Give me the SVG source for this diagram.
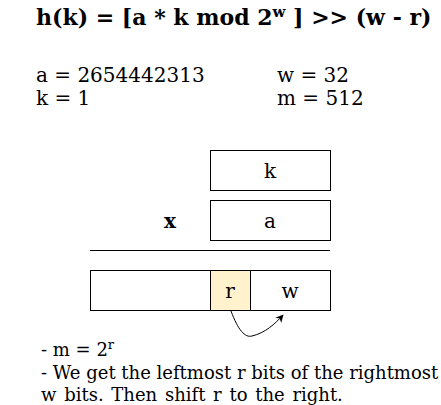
<svg xmlns="http://www.w3.org/2000/svg" width="441" height="405" viewBox="0 0 441 405">
<style>
text{font-family:"DejaVu Serif",serif;font-size:20px;fill:#000}
.b{font-weight:bold}
.c{text-anchor:middle}
.n{font-size:18px}
.box{stroke:#000;stroke-width:1;fill:#fff}
</style>
<defs>
<marker id="ah" viewBox="0 0 10 10" refX="9" refY="5" markerWidth="8" markerHeight="8" orient="auto" markerUnits="userSpaceOnUse"><path d="M0,0 L10,5 L0,10 L3,5 Z" fill="#000"/></marker>
</defs>
<rect width="441" height="405" fill="#fff"/>
<g id="title"><text x="36" y="25" class="b" style="font-size:22px">h(k) = [a * k mod 2<tspan font-size="15" dy="-8">w</tspan><tspan dy="8"> ] &gt;&gt; (w - r)</tspan></text></g>
<g id="params">
<text x="36" y="82">a = 2654442313</text>
<text x="36" y="105">k = 1</text>
<text x="277" y="82">w = 32</text>
<text x="277" y="105">m = 512</text>
</g>
<g id="node-k"><rect class="box" x="210.5" y="150.5" width="120" height="40"/><text x="270" y="178" class="c">k</text></g>
<g id="node-a"><rect class="box" x="210.5" y="200.5" width="120" height="40"/><text x="270" y="228" class="c">a</text></g>
<g id="node-x"><text x="170" y="228" class="b c">x</text></g>
<g id="rule"><line x1="90" y1="250.5" x2="330" y2="250.5" stroke="#000"/></g>
<g id="node-left"><rect class="box" x="90.5" y="270.5" width="120" height="40"/></g>
<g id="node-r"><rect class="box" x="210.5" y="270.5" width="40" height="40" style="fill:#fff2cc"/><text x="230" y="298" class="c">r</text></g>
<g id="node-w"><rect class="box" x="250.5" y="270.5" width="80" height="40"/><text x="290" y="298" class="c">w</text></g>
<g id="connectors"><path d="M231,311 C238,330 245,338 252,336 C265,333 275,324 283,315" fill="none" stroke="#000" marker-end="url(#ah)"/></g>
<g id="notes">
<text x="41" y="356" class="n">- m = 2<tspan font-size="13" dy="-7">r</tspan></text>
<text x="41" y="379" class="n">- We get the leftmost r bits of the rightmost</text>
<text x="41" y="401" class="n" word-spacing="2">w bits. Then shift r to the right.</text>
</g>
</svg>
